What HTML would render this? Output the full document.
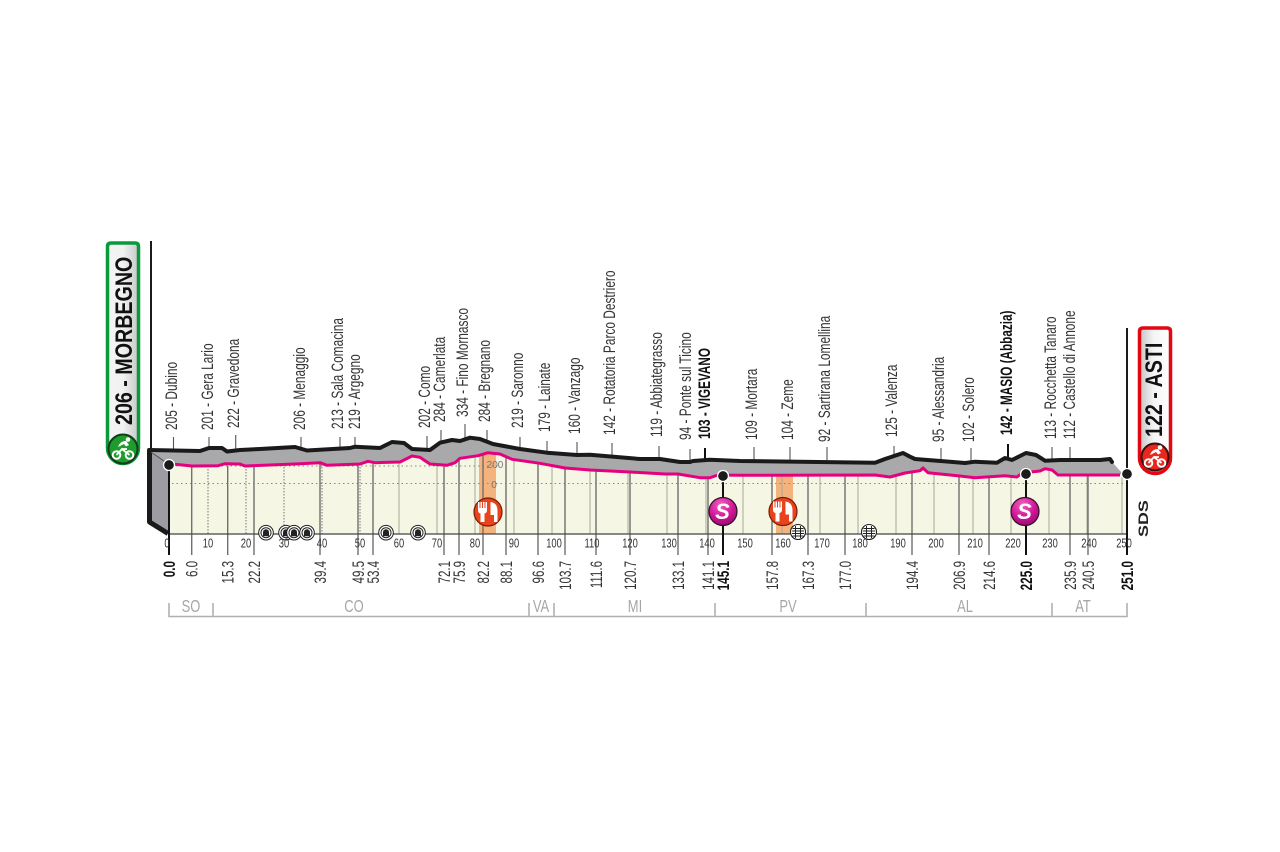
<!DOCTYPE html>
<html><head><meta charset="utf-8"><title>Stage profile</title>
<style>
html,body{margin:0;padding:0;background:#fff}
svg{display:block}
text{font-family:"Liberation Sans",Arial,sans-serif}
.t{font-size:17px;fill:#333}
.b{font-size:17px;fill:#111;font-weight:bold}
.a{font-size:13px;fill:#333;text-anchor:middle}
.p{font-size:18px;fill:#a6a6a6;text-anchor:middle}
.e{font-size:10px;fill:#777;text-anchor:middle}
</style></head><body>
<svg width="1280" height="852" viewBox="0 0 1280 852" xmlns="http://www.w3.org/2000/svg">
<defs>
<linearGradient id="gs" x1="0" x2="1" y1="0" y2="0"><stop offset="0" stop-color="#f4f4f4"/><stop offset=".5" stop-color="#f2f2f2"/><stop offset="1" stop-color="#c8c8c8"/></linearGradient>
<linearGradient id="gf" x1="0" x2="1" y1="0" y2="0"><stop offset="0" stop-color="#c4c4c4"/><stop offset=".45" stop-color="#f4f4f4"/><stop offset="1" stop-color="#fff"/></linearGradient>
<radialGradient id="gm" cx=".42" cy=".25" r=".85"><stop offset="0" stop-color="#f060c0"/><stop offset=".55" stop-color="#cf1596"/><stop offset="1" stop-color="#8a0a68"/></radialGradient>
<g id="tun"><circle r="7.3" fill="#fff" stroke="#222" stroke-width="1"/><circle r="5" fill="none" stroke="#222" stroke-width="1"/><path d="M-3 3.5V-.5A3 3 0 0 1 3-.5V3.5Z" fill="#222"/></g>
<g id="rail"><circle r="7.5" fill="#fff" stroke="#222" stroke-width="1.1"/><path d="M-2.5-6V6M2.5-6V6M-5.500-3.500H5.500M-6-1H6M-6 1.500H6M-5.500 4H5.500" stroke="#222" stroke-width="1" fill="none"/></g>
<g id="feed"><circle r="14" fill="#e8431c" stroke="#7a1c08" stroke-width="1.200"/><path d="M-10-10h1.500v6h1v-6h1.500v6h1v-6h1.500v6h1v-6h1.500V-2q0 3-2.500 3.500V10h-4V1.500Q-10 1-10-2Z" fill="#fff"/><path d="M2.500-10q7 1 7 9V10H6V3H2.500Z" fill="#fff"/></g>
<g id="spr"><circle r="14" fill="url(#gm)" stroke="#33102a" stroke-width="1.200"/><text x="-.5" y="7.500" font-size="22" font-weight="bold" font-style="italic" fill="#fff" text-anchor="middle">S</text></g>
<g id="bike"><circle cx="-6.500" cy="6" r="3.800" fill="none" stroke="#fff" stroke-width="2"/><circle cx="6.500" cy="6" r="3.800" fill="none" stroke="#fff" stroke-width="2"/><path d="M-6.500 6L-1 0L6.500 6M-1 0L4 0" fill="none" stroke="#fff" stroke-width="1.800"/><path d="M-5-2Q-3-8 3-8L6-4L3-2.500L1-5Z" fill="#fff"/><circle cx="5" cy="-9.500" r="2.300" fill="#fff"/></g>
</defs>

<!-- cream area -->
<polygon fill="#f6f6e4" points="169,465 175,464.3 192,466 218,465.7 225,463.7 240,464 245,466 270,465 300,463.7 320,462.7 327,465.3 360,464 368,461.3 375,462.7 400,462 412,456 420,457.3 425,460.7 430,464 447,465.3 455,462.7 460,458.3 478,455.7 488,452.7 500,454 512,459.3 540,463.3 565,468 590,470 630,472 665,474 678,474 700,477.7 710,477.7 718,475 740,475.3 875,475 890,477 905,473 920,470.7 923,468 928,472.7 960,476 975,477.7 1005,475.7 1017,477 1022,473 1040,471 1045,468.7 1052,470 1058,475 1120,475 1127,474 1127,534 169,534"/>

<!-- feed bands -->
<rect x="479" y="452" width="17" height="82" fill="#f4b27c"/>
<rect x="776" y="475" width="17" height="59" fill="#f4b27c"/>

<!-- 10 km grid -->
<g stroke="#777" stroke-width="1" stroke-dasharray="1.500 1.500" fill="none">
<path d="M208 466V534M246 466V534M284 464V534M322 464V534M360 464V534"/>
</g>
<g stroke="#a8a898" stroke-width="1" fill="none">
<path d="M399 462V534M437 464V534M475 456V534M514 460V534M552 465V534M590 470V534M628 472V534M667 474V534M706 478V534M743 475V534M782 475V534M820 475V534M858 475V534M896 476V534M934 473V534M973 477V534M1011 476V534M1049 470V534M1087 475V534M1122 475V534"/>
</g>
<!-- elevation dotted lines -->
<g stroke="#8a8a7a" stroke-width="1" stroke-dasharray="1.500 3" fill="none">
<path d="M172 483.500H1127"/>
<path d="M172 466H500"/>
</g>

<!-- spot ticks -->
<g stroke="#707070" stroke-width="1.400" fill="none">
<path d="M191.700 466V555M227.700 466V555M254 465V555M320 463V555M358 464V555M373 463V555M444 465V555M459 459V555M483 454V555M506 457V555M538 463V555M565 468V555M596 470V555M630 472V555M678 474V555M708 478V555M772 475V555M808 475V555M845 475V555M912 472V555M959 476V555M989 477V555M1070 475V555M1088 475V555"/>
</g>

<!-- top ticks -->
<g stroke="#555" stroke-width="1.100" fill="none">
<path d="M173.500 437V452M209 437V452M235.700 435V452M301 437V452M340 437V452M355 437V452M427 436V452M441 430V445M465 424V440M487 430V442M520 437V451M547 441V454M577 442V456M612 443V458M659 446V460M690 449V463M754 447V462M790 447V462M827 447V462M894 446V458M941 448V462M971 448V462M1052 447V462M1070 447V462"/>
</g>
<path d="M705 448V461M1008 444V458" stroke="#111" stroke-width="2" fill="none"/>

<!-- grey profile -->
<polygon fill="#a9a9ab" points="150,450 200,451 209,448 222,448 227,451.500 240,450 260,449 295,447 307,450.500 350,448 355,446.700 380,448 392,442 404,443 412,449 430,450 440,442.700 452,440 460,441 470,437.700 480,439 493,444 520,449 547,452.700 577,455 590,454.700 640,459 660,459 680,462 690,462 693,461 710,459.700 740,461 875,462.700 885,459 895,455.700 903,453 910,456.700 915,459 950,461.700 965,463 975,461.700 997,462.700 1005,458 1012,460 1026,453 1036,455 1045,460.700 1060,460 1100,460 1110,459 1113,463 1122,473 1120,475 1058,475 1052,470 1045,468.700 1040,471 1022,473 1017,477 1005,475.700 975,477.700 960,476 928,472.700 923,468 920,470.700 905,473 890,477 875,475 740,475.300 718,475 710,477.700 700,477.700 678,474 665,474 630,472 590,470 565,468 540,463.300 512,459.300 500,454 488,452.700 478,455.700 460,458.300 455,462.700 447,465.300 430,464 425,460.700 420,457.300 412,456 400,462 375,462.700 368,461.300 360,464 327,465.300 320,462.700 300,463.700 270,465 245,466 240,464 225,463.700 218,465.700 192,466 175,464.300 169,465"/>
<!-- left wedge -->
<polygon fill="#9c9ca2" points="150,452 168,465 168,532 150,521"/>
<polyline fill="none" stroke="#1a1a1a" stroke-width="5" stroke-linejoin="round" points="149.500,451 149.500,522 168,533.500"/>
<path d="M151 452L168 464" stroke="#555" stroke-width="1.200"/>

<!-- pink road -->
<polyline fill="none" stroke="#e5007e" stroke-width="3" stroke-linejoin="round" points="175,464.300 192,466 218,465.700 225,463.700 240,464 245,466 270,465 300,463.700 320,462.700 327,465.300 360,464 368,461.300 375,462.700 400,462 412,456 420,457.300 425,460.700 430,464 447,465.300 455,462.700 460,458.300 478,455.700 488,452.700 500,454 512,459.300 540,463.300 565,468 590,470 630,472 665,474 678,474 700,477.700 710,477.700 718,475 740,475.300 875,475 890,477 905,473 920,470.700 923,468 928,472.700 960,476 975,477.700 1005,475.700 1017,477 1022,473 1040,471 1045,468.700 1052,470 1058,475 1120,475"/>
<!-- black road -->
<polyline fill="none" stroke="#1a1a1a" stroke-width="4" stroke-linejoin="round" stroke-linecap="round" points="149,450 200,451 209,448 222,448 227,451.500 240,450 260,449 295,447 307,450.500 350,448 355,446.700 380,448 392,442 404,443 412,449 430,450 440,442.700 452,440 460,441 470,437.700 480,439 493,444 520,449 547,452.700 577,455 590,454.700 640,459 660,459 680,462 690,462 693,461 710,459.700 740,461 875,462.700 885,459 895,455.700 903,453 910,456.700 915,459 950,461.700 965,463 975,461.700 997,462.700 1005,458 1012,460 1026,453 1036,455 1045,460.700 1060,460 1100,460 1110,459 1112,462"/>

<!-- axis -->
<path d="M169 534H1127" stroke="#444" stroke-width="1.300"/>
<path d="M151 241V450" stroke="#1a1a1a" stroke-width="2"/>
<path d="M1127 328V474" stroke="#1a1a1a" stroke-width="2"/>
<path d="M169 465V555M723 476V555M1026 474V555M1127 474V555" stroke="#111" stroke-width="2" fill="none"/>
<g fill="#1a1a1a" stroke="#fff" stroke-width="1.300">
<circle cx="169" cy="465" r="5.500"/><circle cx="723" cy="476" r="5.500"/><circle cx="1026" cy="474" r="5.500"/><circle cx="1127" cy="474" r="5.500"/>
</g>

<!-- icons -->
<use href="#tun" x="266" y="532.700"/><use href="#tun" x="286" y="532.700"/><use href="#tun" x="294" y="532.700"/><use href="#tun" x="307" y="532.700"/><use href="#tun" x="386" y="532.700"/><use href="#tun" x="418" y="532.700"/>
<use href="#rail" x="798" y="532"/><use href="#rail" x="869" y="532"/>
<use href="#feed" x="488" y="512"/><use href="#feed" x="783" y="511.500"/>
<use href="#spr" x="723" y="511.500"/><use href="#spr" x="1025" y="511.500"/>

<!-- elevation labels -->
<text class="e" transform="translate(495,468)">200</text>
<text class="e" transform="translate(494,488)">0</text>

<!-- axis km numbers -->
<g>
<text class="a" transform="translate(167,547.500) scale(.72,1)">0</text>
<text class="a" transform="translate(208,547.500) scale(.72,1)">10</text>
<text class="a" transform="translate(246,547.500) scale(.72,1)">20</text>
<text class="a" transform="translate(284,547.500) scale(.72,1)">30</text>
<text class="a" transform="translate(322,547.500) scale(.72,1)">40</text>
<text class="a" transform="translate(360,547.500) scale(.72,1)">50</text>
<text class="a" transform="translate(399,547.500) scale(.72,1)">60</text>
<text class="a" transform="translate(437,547.500) scale(.72,1)">70</text>
<text class="a" transform="translate(475,547.500) scale(.72,1)">80</text>
<text class="a" transform="translate(514,547.500) scale(.72,1)">90</text>
<text class="a" transform="translate(554,547.500) scale(.72,1)">100</text>
<text class="a" transform="translate(592,547.500) scale(.72,1)">110</text>
<text class="a" transform="translate(630,547.500) scale(.72,1)">120</text>
<text class="a" transform="translate(669,547.500) scale(.72,1)">130</text>
<text class="a" transform="translate(707,547.500) scale(.72,1)">140</text>
<text class="a" transform="translate(745,547.500) scale(.72,1)">150</text>
<text class="a" transform="translate(783,547.500) scale(.72,1)">160</text>
<text class="a" transform="translate(822,547.500) scale(.72,1)">170</text>
<text class="a" transform="translate(860,547.500) scale(.72,1)">180</text>
<text class="a" transform="translate(898,547.500) scale(.72,1)">190</text>
<text class="a" transform="translate(936,547.500) scale(.72,1)">200</text>
<text class="a" transform="translate(975,547.500) scale(.72,1)">210</text>
<text class="a" transform="translate(1013,547.500) scale(.72,1)">220</text>
<text class="a" transform="translate(1050,547.500) scale(.72,1)">230</text>
<text class="a" transform="translate(1089,547.500) scale(.72,1)">240</text>
<text class="a" transform="translate(1124,547.500) scale(.72,1)">250</text>
</g>

<!-- top place labels -->
<g text-anchor="start">
<text class="t" transform="translate(177,430) rotate(-90) scale(.70,1)">205 - Dubino</text>
<text class="t" transform="translate(213,430) rotate(-90) scale(.70,1)">201 - Gera Lario</text>
<text class="t" transform="translate(239,428) rotate(-90) scale(.70,1)">222 - Gravedona</text>
<text class="t" transform="translate(305,430) rotate(-90) scale(.70,1)">206 - Menaggio</text>
<text class="t" transform="translate(343,429) rotate(-90) scale(.70,1)">213 - Sala Comacina</text>
<text class="t" transform="translate(360,429) rotate(-90) scale(.70,1)">219 - Argegno</text>
<text class="t" transform="translate(430,428) rotate(-90) scale(.70,1)">202 - Como</text>
<text class="t" transform="translate(445,422) rotate(-90) scale(.70,1)">284 - Camerlata</text>
<text class="t" transform="translate(468,417) rotate(-90) scale(.70,1)">334 - Fino Mornasco</text>
<text class="t" transform="translate(490,422) rotate(-90) scale(.70,1)">284 - Bregnano</text>
<text class="t" transform="translate(523,428) rotate(-90) scale(.70,1)">219 - Saronno</text>
<text class="t" transform="translate(550,432) rotate(-90) scale(.70,1)">179 - Lainate</text>
<text class="t" transform="translate(580,434) rotate(-90) scale(.70,1)">160 - Vanzago</text>
<text class="t" transform="translate(615,435) rotate(-90) scale(.70,1)">142 - Rotatoria Parco Destriero</text>
<text class="t" transform="translate(662,437) rotate(-90) scale(.70,1)">119 - Abbiategrasso</text>
<text class="t" transform="translate(691,440) rotate(-90) scale(.70,1)">94 - Ponte sul Ticino</text>
<text class="b" transform="translate(710,439) rotate(-90) scale(.69,1)">103 - VIGEVANO</text>
<text class="t" transform="translate(757,440) rotate(-90) scale(.70,1)">109 - Mortara</text>
<text class="t" transform="translate(793,440) rotate(-90) scale(.70,1)">104 - Zeme</text>
<text class="t" transform="translate(830,442) rotate(-90) scale(.70,1)">92 - Sartirana Lomellina</text>
<text class="t" transform="translate(897,437) rotate(-90) scale(.70,1)">125 - Valenza</text>
<text class="t" transform="translate(944,442) rotate(-90) scale(.70,1)">95 - Alessandria</text>
<text class="t" transform="translate(974,442) rotate(-90) scale(.70,1)">102 - Solero</text>
<text class="b" transform="translate(1012,435) rotate(-90) scale(.69,1)">142 - MASIO (Abbazia)</text>
<text class="t" transform="translate(1056,439) rotate(-90) scale(.70,1)">113 - Rocchetta Tanaro</text>
<text class="t" transform="translate(1075,439) rotate(-90) scale(.70,1)">112 - Castello di Annone</text>
</g>

<!-- km labels -->
<g text-anchor="end">
<text class="b" transform="translate(175,561) rotate(-90) scale(.69,1)">0.0</text>
<text class="t" transform="translate(197.700,561) rotate(-90) scale(.68,1)">6.0</text>
<text class="t" transform="translate(233.700,561) rotate(-90) scale(.68,1)">15.3</text>
<text class="t" transform="translate(260,561) rotate(-90) scale(.68,1)">22.2</text>
<text class="t" transform="translate(326,561) rotate(-90) scale(.68,1)">39.4</text>
<text class="t" transform="translate(364,561) rotate(-90) scale(.68,1)">49.5</text>
<text class="t" transform="translate(379,561) rotate(-90) scale(.68,1)">53.4</text>
<text class="t" transform="translate(450,561) rotate(-90) scale(.68,1)">72.1</text>
<text class="t" transform="translate(465,561) rotate(-90) scale(.68,1)">75.9</text>
<text class="t" transform="translate(489,561) rotate(-90) scale(.68,1)">82.2</text>
<text class="t" transform="translate(512,561) rotate(-90) scale(.68,1)">88.1</text>
<text class="t" transform="translate(544,561) rotate(-90) scale(.68,1)">96.6</text>
<text class="t" transform="translate(571,561) rotate(-90) scale(.68,1)">103.7</text>
<text class="t" transform="translate(602,561) rotate(-90) scale(.68,1)">111.6</text>
<text class="t" transform="translate(636,561) rotate(-90) scale(.68,1)">120.7</text>
<text class="t" transform="translate(684,561) rotate(-90) scale(.68,1)">133.1</text>
<text class="t" transform="translate(714,561) rotate(-90) scale(.68,1)">141.1</text>
<text class="b" transform="translate(729,561) rotate(-90) scale(.69,1)">145.1</text>
<text class="t" transform="translate(778,561) rotate(-90) scale(.68,1)">157.8</text>
<text class="t" transform="translate(814,561) rotate(-90) scale(.68,1)">167.3</text>
<text class="t" transform="translate(851,561) rotate(-90) scale(.68,1)">177.0</text>
<text class="t" transform="translate(918,561) rotate(-90) scale(.68,1)">194.4</text>
<text class="t" transform="translate(965,561) rotate(-90) scale(.68,1)">206.9</text>
<text class="t" transform="translate(995,561) rotate(-90) scale(.68,1)">214.6</text>
<text class="b" transform="translate(1032,561) rotate(-90) scale(.69,1)">225.0</text>
<text class="t" transform="translate(1076,561) rotate(-90) scale(.68,1)">235.9</text>
<text class="t" transform="translate(1094,561) rotate(-90) scale(.68,1)">240.5</text>
<text class="b" transform="translate(1133,561) rotate(-90) scale(.69,1)">251.0</text>
</g>

<!-- provinces -->
<path d="M169 603V616.500H1127V603M213 603V616.500M529 603V616.500M554 603V616.500M715 603V616.500M866 603V616.500M1052 603V616.500" fill="none" stroke="#b0b0b0" stroke-width="1.600"/>
<text class="p" transform="translate(191,612) scale(.72,1)">SO</text>
<text class="p" transform="translate(354,612) scale(.72,1)">CO</text>
<text class="p" transform="translate(541,612) scale(.72,1)">VA</text>
<text class="p" transform="translate(635,612) scale(.72,1)">MI</text>
<text class="p" transform="translate(788,612) scale(.72,1)">PV</text>
<text class="p" transform="translate(965,612) scale(.72,1)">AL</text>
<text class="p" transform="translate(1083,612) scale(.72,1)">AT</text>

<!-- start banner -->
<path d="M111 243H135Q138.500 243 138.500 246.500V448A15.500 15.500 0 0 1 107.500 448V246.500Q107.500 243 111 243Z" fill="url(#gs)" stroke="#0a9a3c" stroke-width="3.500"/>
<text transform="translate(132,425) rotate(-90) scale(.82,1)" font-size="24" font-weight="bold" fill="#111">206 - MORBEGNO</text>
<circle cx="123" cy="449" r="14.500" fill="#1f9c2e" stroke="#163a1c" stroke-width="2"/>
<use href="#bike" x="123" y="449"/>

<!-- finish banner -->
<path d="M1143 328H1167Q1170.500 328 1170.500 331.500V458A15.500 15.500 0 0 1 1139.500 458V331.500Q1139.500 328 1143 328Z" fill="url(#gf)" stroke="#e30613" stroke-width="3.500"/>
<text transform="translate(1162,437) rotate(-90) scale(.82,1)" font-size="24" font-weight="bold" fill="#111">122 - ASTI</text>
<circle cx="1155" cy="457" r="13.500" fill="#e8281c" stroke="#3a1010" stroke-width="2"/>
<use href="#bike" x="1155" y="457"/>

<!-- SDS -->
<text transform="translate(1148,537) rotate(-90) scale(1.280,1)" font-size="14" font-weight="bold" fill="#222">SDS</text>
</svg>
</body></html>
